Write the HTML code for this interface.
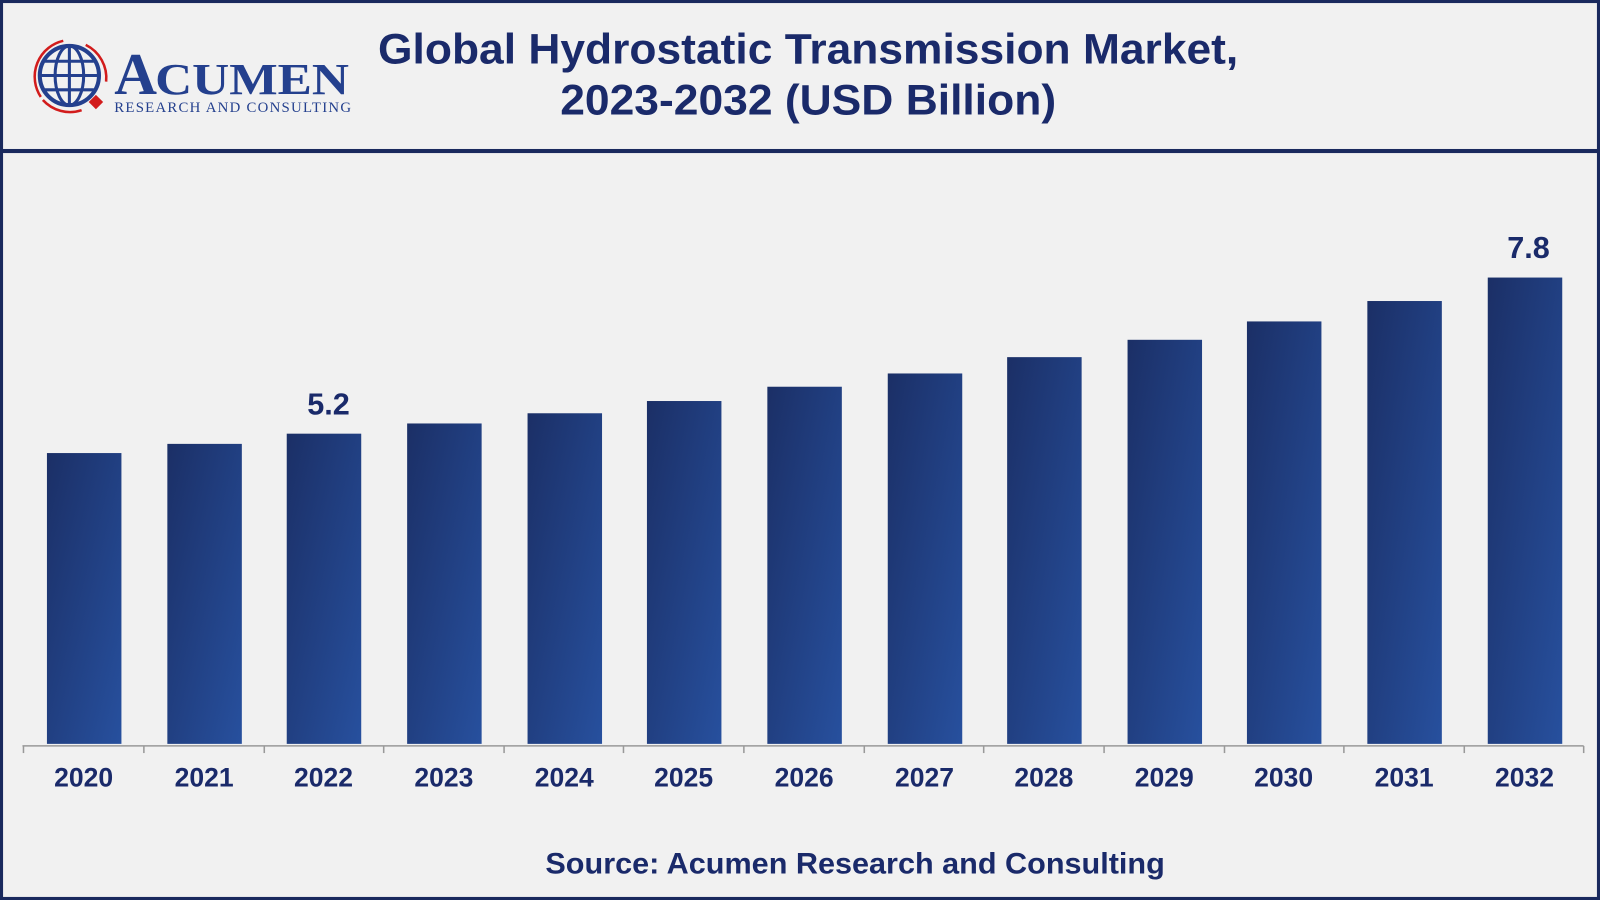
<!DOCTYPE html>
<html><head><meta charset="utf-8"><style>
html,body{margin:0;padding:0;background:#f1f1f1;}
svg{display:block;}
</style></head><body>
<svg width="1600" height="900" viewBox="0 0 1568 882" preserveAspectRatio="none" xmlns="http://www.w3.org/2000/svg">
<defs>
<linearGradient id="g" x1="0" y1="0" x2="1" y2="1">
<stop offset="0" stop-color="#1b2f66"/><stop offset="1" stop-color="#27509e"/>
</linearGradient>
</defs>
<rect x="0" y="0" width="1568" height="882" fill="#f1f1f1"/>
<rect x="1.5" y="1.5" width="1565" height="879" fill="none" stroke="#1a2a5e" stroke-width="3"/>
<rect x="0" y="146" width="1568" height="4" fill="#1a2a5e"/>
<g>
<circle cx="68" cy="74" r="29" fill="none" stroke="#24408e" stroke-width="4"/>
<ellipse cx="68" cy="74" rx="14" ry="29" fill="none" stroke="#24408e" stroke-width="3"/>
<line x1="39" y1="74" x2="97" y2="74" stroke="#24408e" stroke-width="3"/>
<line x1="68" y1="45" x2="68" y2="103" stroke="#24408e" stroke-width="3"/>
<path d="M44 60 H92 M44 88 H92" stroke="#24408e" stroke-width="3"/>
<path d="M40 95 A36 36 0 0 1 62 40" fill="none" stroke="#d21c1c" stroke-width="2.5"/>
<path d="M84 44 A36 36 0 0 1 104 80" fill="none" stroke="#d21c1c" stroke-width="2.5"/>
<path d="M42 98 A36 36 0 0 0 80 108" fill="none" stroke="#d21c1c" stroke-width="2.5"/>
<rect x="89" y="95" width="10" height="10" fill="#d21c1c" transform="rotate(45 94 100)"/>
<text x="112" y="92" font-family="Liberation Serif, serif" font-weight="bold" font-size="58" fill="#24408e">A</text>
<text x="152" y="92" font-family="Liberation Serif, serif" font-weight="bold" font-size="44" fill="#24408e" textLength="190" lengthAdjust="spacingAndGlyphs">CUMEN</text>
<text x="112" y="110" font-family="Liberation Serif, serif" font-size="14.5" fill="#24408e" textLength="232">RESEARCH AND CONSULTING</text>
</g>
<g font-family="Liberation Sans, sans-serif" font-weight="bold" fill="#1a2a6a" text-anchor="middle">
<text x="792" y="62" font-size="42" textLength="843" lengthAdjust="spacingAndGlyphs">Global Hydrostatic Transmission Market,</text>
<text x="792" y="112" font-size="42" textLength="486" lengthAdjust="spacingAndGlyphs">2023-2032 (USD Billion)</text>
</g>
<g fill="url(#g)">
<rect x="46" y="444" width="73" height="285"/>
<rect x="164" y="435" width="73" height="294"/>
<rect x="281" y="425" width="73" height="304"/>
<rect x="399" y="415" width="73" height="314"/>
<rect x="517" y="405" width="73" height="324"/>
<rect x="634" y="393" width="73" height="336"/>
<rect x="752" y="379" width="73" height="350"/>
<rect x="870" y="366" width="73" height="363"/>
<rect x="987" y="350" width="73" height="379"/>
<rect x="1105" y="333" width="73" height="396"/>
<rect x="1222" y="315" width="73" height="414"/>
<rect x="1340" y="295" width="73" height="434"/>
<rect x="1458" y="272" width="73" height="457"/>
</g>
<g stroke="#999" stroke-width="1.5">
<line x1="22" y1="731" x2="1552" y2="731"/>
<line x1="23" y1="731" x2="23" y2="738"/><line x1="141" y1="731" x2="141" y2="738"/><line x1="259" y1="731" x2="259" y2="738"/><line x1="376" y1="731" x2="376" y2="738"/><line x1="494" y1="731" x2="494" y2="738"/><line x1="611" y1="731" x2="611" y2="738"/><line x1="729" y1="731" x2="729" y2="738"/><line x1="847" y1="731" x2="847" y2="738"/><line x1="964" y1="731" x2="964" y2="738"/><line x1="1082" y1="731" x2="1082" y2="738"/><line x1="1200" y1="731" x2="1200" y2="738"/><line x1="1317" y1="731" x2="1317" y2="738"/><line x1="1435" y1="731" x2="1435" y2="738"/><line x1="1552" y1="731" x2="1552" y2="738"/>
</g>
<g font-family="Liberation Sans, sans-serif" font-weight="bold" fill="#1a2a6a" text-anchor="middle" font-size="26">
<text x="82" y="771">2020</text><text x="200" y="771">2021</text><text x="317" y="771">2022</text><text x="435" y="771">2023</text><text x="553" y="771">2024</text><text x="670" y="771">2025</text><text x="788" y="771">2026</text><text x="906" y="771">2027</text><text x="1023" y="771">2028</text><text x="1141" y="771">2029</text><text x="1258" y="771">2030</text><text x="1376" y="771">2031</text><text x="1494" y="771">2032</text>
<text x="322" y="406" font-size="30">5.2</text>
<text x="1498" y="253" font-size="30">7.8</text>
<text x="838" y="856" font-size="29" textLength="607" lengthAdjust="spacingAndGlyphs">Source: Acumen Research and Consulting</text>
</g>
</svg>
</body></html>
